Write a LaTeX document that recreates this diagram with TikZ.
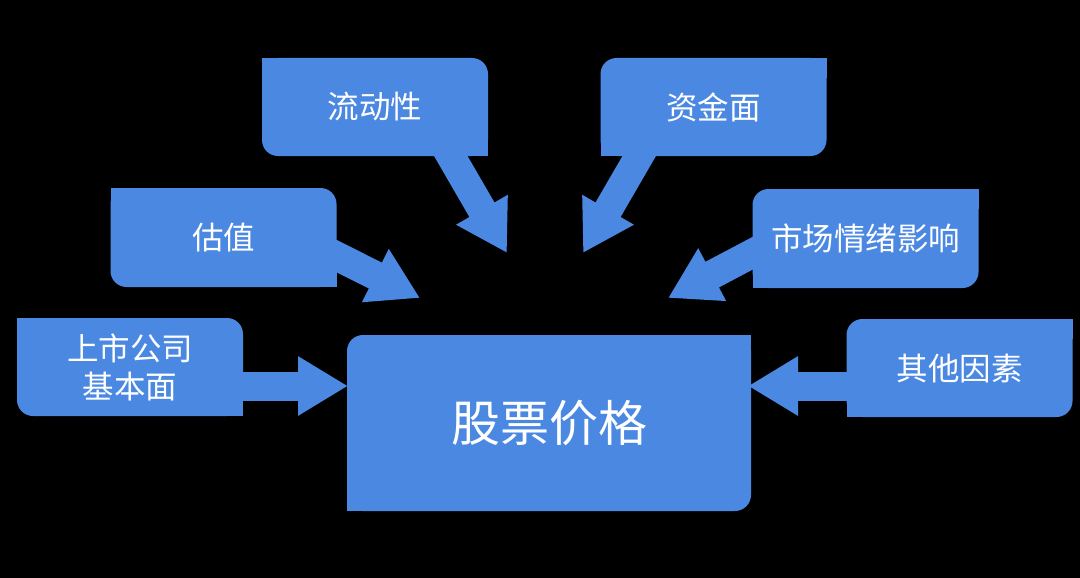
\documentclass[tikz,border=0pt]{standalone}
\usepackage{fontspec}
\newfontfamily\cjk{Noto Sans CJK SC}
\usepackage{tikz}
\usetikzlibrary{arrows.meta}
\pgfdeclarelayer{back}
\pgfsetlayers{back,main}
\definecolor{boxblue}{RGB}{74,136,226}

\begin{document}
\begin{tikzpicture}[x=1pt, y=-1pt,
    factor/.style={fill=boxblue, rounded corners=16pt, outer sep=0pt, inner sep=0pt,
        minimum width=226pt, minimum height=98pt, text=white, align=center,
        font=\cjk\fontsize{31.5}{38}\selectfont},
    bigarrow/.style={draw=boxblue, line width=29pt, -{Triangle[length=50pt,width=56pt]}}]

            % Background
            \begin{pgfonlayer}{back}
            \fill[black] (0,0) rectangle (1080,578);
            \end{pgfonlayer}
            \useasboundingbox (0,0) rectangle (1080,578);

            % Factors
            \node[factor] (flow) at (375,107) {流动性};
            \node[factor] (fund) at (713.5,107) {资金面};
            \node[factor, minimum height=99pt] (val) at (223.5,237.5) {估值};
            \node[factor, minimum height=99pt] (mood) at (865.5,238.5) {市场情绪影响};
            \node[factor] (base) at (130,367) {上市公司\\基本面};
            \node[factor] (other) at (959.5,368) {其他因素};

            % Stock price
            \node[factor, minimum width=404pt, minimum height=176pt,
                font=\cjk\fontsize{49}{54}\selectfont] (price) at (549,423) {股票价格};

            % Sharp corners
            \foreach \n in {flow,val,base} {
                \fill[boxblue] (\n.north west) rectangle ++(20,20);
                \fill[boxblue] (\n.south east) rectangle ++(-20,-20);
            }
            \foreach \n in {fund,mood,other,price} {
                \fill[boxblue] (\n.north east) rectangle ++(-20,20);
                \fill[boxblue] (\n.south west) rectangle ++(20,-20);
            }

            % Arrows
            \begin{pgfonlayer}{back}
            \draw[bigarrow] ([shift={(-10,19)}]base.east) -- ([shift={(1,-37)}]price.west);
            \draw[bigarrow] ([shift={(10,18)}]other.west) -- ([shift={(-3,-37)}]price.east);
            \draw[bigarrow] ([shift={(-10,13.5)}]val.east) -- ([shift={(73,-37)}]price.north west);
            \draw[bigarrow] ([shift={(10,9.5)}]mood.west) -- ([shift={(-83,-37)}]price.north east);
            \draw[bigarrow] ([shift={(70,-10)}]flow.south) -- ([shift={(-42,-82)}]price.north);
            \draw[bigarrow] ([shift={(-68.5,-10)}]fund.south) -- ([shift={(34,-82)}]price.north);
            \end{pgfonlayer}

        \end{tikzpicture}
\end{document}
